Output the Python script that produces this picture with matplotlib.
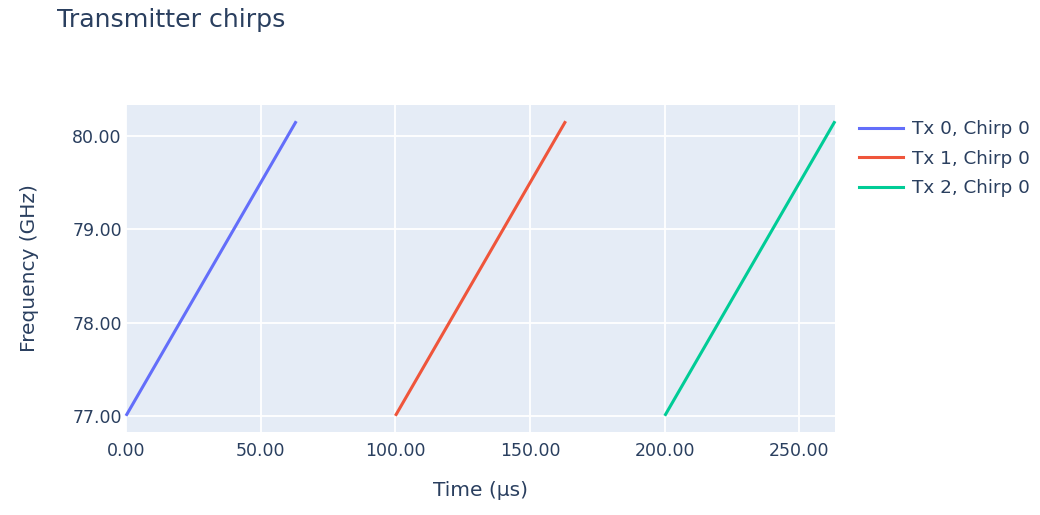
import numpy as np
import matplotlib.pyplot as plt
from matplotlib.lines import Line2D

# chirp parameters
start_times = [0.0, 100.0, 200.0]        # µs
chirp_len = 63.2                          # µs
f_start = 77.0                            # GHz
f_end = 80.16                             # GHz
labels = ["Tx 0, Chirp 0", "Tx 1, Chirp 0", "Tx 2, Chirp 0"]
colors = ["#636efa", "#EF553B", "#00cc96"]
xticks = [0, 50, 100, 150, 200, 250]
yticks = [77, 78, 79, 80]

plt.rcParams['font.family'] = ['DejaVu Sans']
txt = "#2a3f5f"

fig = plt.figure(figsize=(10.4, 5.15), dpi=100)
ax = fig.add_axes([126/1040, 1-432/515, (835-126)/1040, (432-105)/515])
ax.set_facecolor("#E5ECF6")

for t0, lab, c in zip(start_times, labels, colors):
    ax.plot([t0, t0 + chirp_len], [f_start, f_end], color=c, lw=2.2,
            label=lab, clip_on=False, solid_capstyle='butt', zorder=3)

ax.set_xlim(0, start_times[-1] + chirp_len)
pad = (f_end - f_start) * 0.055
ax.set_ylim(f_start - pad, f_end + pad * 1.0)
ax.set_xticks(xticks)
ax.set_yticks(yticks)
ax.set_xticklabels(["%.2f" % v for v in xticks])
ax.set_yticklabels(["%.2f" % v for v in yticks])
ax.grid(True, color="white", lw=1.3)
ax.set_axisbelow(True)
for s in ax.spines.values():
    s.set_visible(False)
ax.tick_params(length=0, labelsize=12.5, colors=txt)
ax.tick_params(axis='y', pad=3)
ax.tick_params(axis='x', pad=7.5)

ax.set_xlabel("Time (µs)", fontsize=14.5, color=txt, labelpad=14.5)
ax.set_ylabel("Frequency (GHz)", fontsize=14.5, color=txt, labelpad=24)
fig.text(57/1040, 1-20/515, "Transmitter chirps", fontsize=18.2, color=txt,
         va="center", ha="left")

handles = [Line2D([], [], color=c, lw=2.2) for c in colors]
leg = fig.legend(handles, labels, loc="upper left",
                 bbox_to_anchor=(852/1040, 1-113/515), frameon=False,
                 fontsize=13.2, handlelength=2.4, handletextpad=0.45,
                 labelspacing=0.62, borderaxespad=0)
for t in leg.get_texts():
    t.set_color(txt)

fig.savefig("out.png", dpi=100)
